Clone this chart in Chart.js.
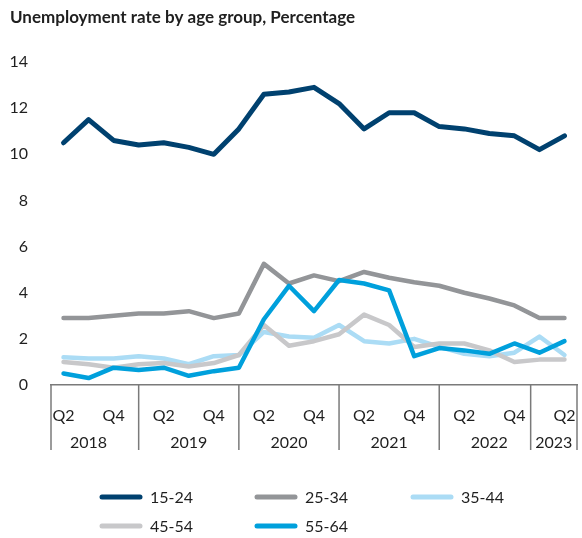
<!DOCTYPE html>
<html>
<head>
<meta charset="utf-8">
<title>Unemployment rate by age group</title>
<script src="https://cdn.jsdelivr.net/npm/chart.js@4.4.1/dist/chart.umd.min.js"></script>
<style>
  html, body { margin: 0; padding: 0; background: #fff; }
  #wrap { position: relative; width: 582px; height: 538px; }
</style>
</head>
<body>
<div id="wrap"><canvas id="chart-unemp"></canvas></div>
<script>
// 四半期（2018 Q2 〜 2023 Q2）
var PERIODS = [
  '2018 Q2', '2018 Q3', '2018 Q4',
  '2019 Q1', '2019 Q2', '2019 Q3', '2019 Q4',
  '2020 Q1', '2020 Q2', '2020 Q3', '2020 Q4',
  '2021 Q1', '2021 Q2', '2021 Q3', '2021 Q4',
  '2022 Q1', '2022 Q2', '2022 Q3', '2022 Q4',
  '2023 Q1', '2023 Q2'
];

var AGE_15_24 = [10.5, 11.5, 10.6, 10.4, 10.5, 10.3, 10.0, 11.1, 12.6, 12.7, 12.9, 12.2, 11.1, 11.8, 11.8, 11.2, 11.1, 10.9, 10.8, 10.2, 10.8];
var AGE_25_34 = [2.9, 2.9, 3.0, 3.1, 3.1, 3.2, 2.9, 3.1, 5.25, 4.4, 4.75, 4.5, 4.9, 4.65, 4.45, 4.3, 4.0, 3.75, 3.45, 2.9, 2.9];
var AGE_35_44 = [1.2, 1.15, 1.15, 1.25, 1.15, 0.9, 1.25, 1.3, 2.3, 2.1, 2.05, 2.6, 1.9, 1.8, 2.0, 1.65, 1.35, 1.25, 1.4, 2.1, 1.3];
var AGE_45_54 = [1.0, 0.9, 0.75, 0.9, 0.95, 0.8, 0.95, 1.3, 2.6, 1.7, 1.9, 2.2, 3.05, 2.6, 1.65, 1.8, 1.8, 1.5, 1.0, 1.1, 1.1];
var AGE_55_64 = [0.5, 0.3, 0.75, 0.65, 0.75, 0.4, 0.6, 0.75, 2.85, 4.3, 3.2, 4.55, 4.4, 4.1, 1.25, 1.6, 1.5, 1.35, 1.8, 1.4, 1.9];

var SERIES_NAMES = ['15-24', '25-34', '35-44', '45-54', '55-64'];
var Y_TICKS = [0, 2, 4, 6, 8, 10, 12, 14];
var SHOWN_QUARTERS = ['Q2', 'Q4'];

// 年の区切り線（カテゴリ番号、端は半目盛り外側）
var YEAR_SPLITS = [-0.5, 3, 7, 11, 15, 18.65, 20.5];

var COLORS = ['#00416f', '#939598', '#abdcf5', '#c8c8ca', '#00a0dc'];
var FONT = 'Lato, "Noto Sans", sans-serif';
var TEXT = '#1f1f1f';

function quarterOf(p) { return p.split(' ')[1]; }
function yearOf(p) { return p.split(' ')[0]; }

// x軸下の年ラベルと区切り線
var yearAxisPlugin = {
  id: 'yearAxis',
  afterDraw: function(chart) {
    var ctx = chart.ctx;
    var xs = chart.scales.x;
    var top = chart.chartArea.bottom;
    ctx.save();
    ctx.strokeStyle = '#7a7a7a';
    ctx.lineWidth = 1.5;
    YEAR_SPLITS.forEach(function(v) {
      var px = xs.getPixelForValue(v);
      ctx.beginPath();
      ctx.moveTo(px, top);
      ctx.lineTo(px, top + 65);
      ctx.stroke();
    });

    ctx.fillStyle = TEXT;
    ctx.font = '16px ' + FONT;
    ctx.textAlign = 'center';
    ctx.textBaseline = 'middle';
    for (var s = 0; s < YEAR_SPLITS.length - 1; s++) {
      var from = YEAR_SPLITS[s], to = YEAR_SPLITS[s + 1];
      var year = null, q2 = null, q4 = null;
      PERIODS.forEach(function(p, i) {
        if (i > from && i < to) {
          year = yearOf(p);
          if (quarterOf(p) === 'Q2') q2 = i;
          if (quarterOf(p) === 'Q4') q4 = i;
        }
      });
      if (!year) continue;
      var mid = (q2 !== null && q4 !== null) ? (q2 + q4) / 2 : (from + to) / 2;
      ctx.fillText(year, xs.getPixelForValue(mid), top + 58);
    }
    ctx.restore();
  }
};

// 凡例（3列グリッド）
var gridLegendPlugin = {
  id: 'gridLegend',
  afterDraw: function(chart) {
    var ctx = chart.ctx;
    var colX = [100, 255, 411];
    var rowY = [497, 526];
    ctx.save();
    ctx.font = '16px ' + FONT;
    ctx.textAlign = 'left';
    ctx.textBaseline = 'middle';
    chart.data.datasets.forEach(function(ds, i) {
      var x = colX[i % 3];
      var y = rowY[Math.floor(i / 3)];
      ctx.strokeStyle = ds.borderColor;
      ctx.lineWidth = 5;
      ctx.lineCap = 'round';
      ctx.beginPath();
      ctx.moveTo(x + 2, y);
      ctx.lineTo(x + 40, y);
      ctx.stroke();
      ctx.fillStyle = TEXT;
      ctx.fillText(ds.label, x + 50, y + 1);
    });
    ctx.restore();
  }
};

var seriesData = [AGE_15_24, AGE_25_34, AGE_35_44, AGE_45_54, AGE_55_64];

var datasets = seriesData.map(function(values, i) {
  return {
    label: SERIES_NAMES[i],
    data: values,
    borderColor: COLORS[i],
    backgroundColor: COLORS[i],
    borderWidth: i === 0 ? 5 : 4.5,
    borderCapStyle: 'round',
    borderJoinStyle: 'round',
    pointRadius: 0,
    tension: 0,
    fill: false,
    order: SERIES_NAMES.length - 1 - i
  };
});

new Chart(document.getElementById('chart-unemp'), {
  type: 'line',
  data: { labels: PERIODS, datasets: datasets },
  options: {
    responsive: true,
    maintainAspectRatio: false,
    animation: false,
    layout: { padding: { left: 10, right: 5, top: 0, bottom: 0 } },
    plugins: {
      legend: { display: false },
      tooltip: { enabled: false },
      title: {
        display: true,
        text: 'Unemployment rate by age group, Percentage',
        align: 'start',
        color: TEXT,
        font: { family: FONT, size: 17, weight: 'bold' },
        padding: { top: 7, bottom: 34.6 }
      }
    },
    scales: {
      x: {
        offset: true,
        // 目盛り線は透明、ラベルの位置だけ下げる
        grid: { display: true, drawOnChartArea: false, drawTicks: true, tickLength: 21, color: 'rgba(0,0,0,0)' },
        border: { display: true, color: '#7a7a7a', width: 1.5 },
        ticks: {
          autoSkip: false,
          maxRotation: 0,
          padding: 0,
          color: TEXT,
          font: { family: FONT, size: 16 },
          callback: function(v, i) {
            var q = quarterOf(PERIODS[i]);
            return SHOWN_QUARTERS.indexOf(q) >= 0 ? q : '';
          }
        },
        afterFit: function(scale) { scale.height = 153; }
      },
      y: {
        min: Y_TICKS[0],
        max: Y_TICKS[Y_TICKS.length - 1],
        grid: { display: false, drawTicks: false },
        border: { display: false },
        afterBuildTicks: function(scale) {
          scale.ticks = Y_TICKS.map(function(v) { return { value: v }; });
        },
        ticks: {
          padding: 23,
          color: TEXT,
          font: { family: FONT, size: 16 }
        },
        afterFit: function(scale) { scale.width = 41; }
      }
    }
  },
  plugins: [yearAxisPlugin, gridLegendPlugin]
});
</script>
</body>
</html>
